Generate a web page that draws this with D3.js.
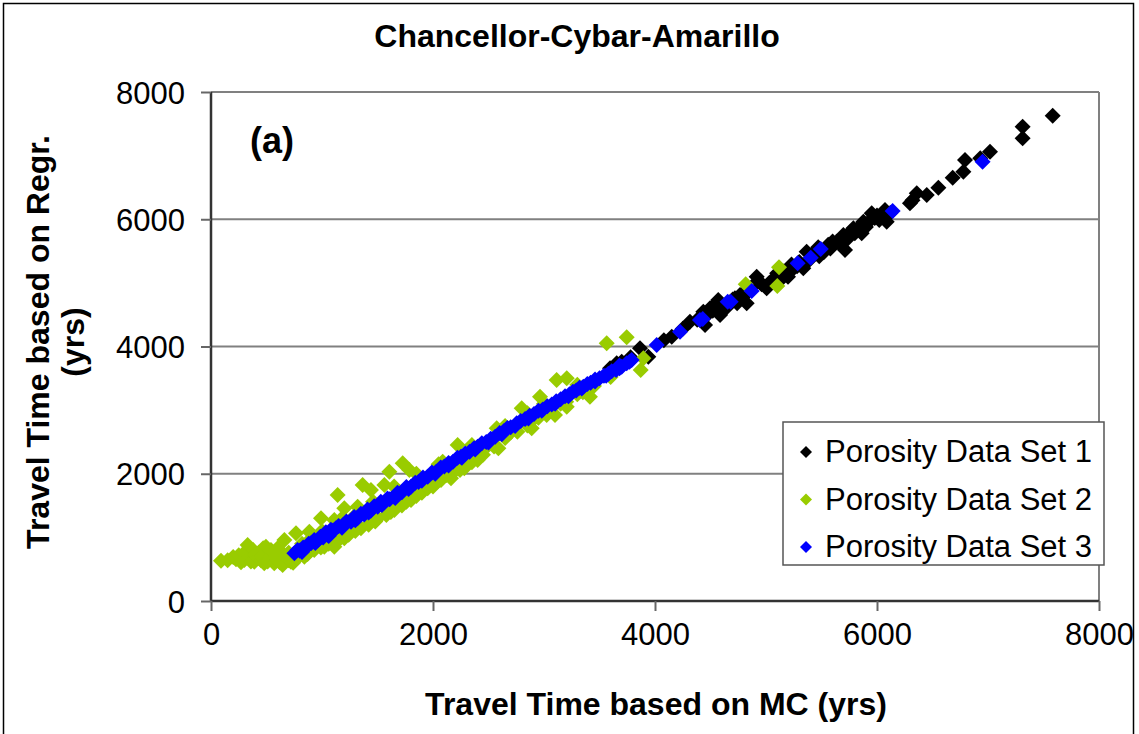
<!DOCTYPE html>
<html>
<head>
<meta charset="utf-8">
<script src="https://cdn.jsdelivr.net/npm/d3@7"></script>
<style>
  body { margin: 0; background: #fff; }
  text { font-family: "Liberation Sans", Arial, sans-serif; fill: #000; }
</style>
</head>
<body>
<svg id="chart" width="1139" height="734"></svg>
<script>
// ticks shared by both axes
var tickValues = [0, 2000, 4000, 6000, 8000];
var seriesNames = ["Porosity Data Set 1", "Porosity Data Set 2", "Porosity Data Set 3"];
var seriesColors = ["#000000", "#99CC00", "#0000FF"];

// [MC travel time, regression travel time]
var set1 = [[3595,3657],[3655,3736],[3700,3760],[3780,3830],[3865,3971],[3940,3840],[4080,4100],[4151,4154],
  [4250,4280],[4315,4390],[4380,4420],[4435,4547],[4460,4480],[4496,4600],[4451,4338],[4520,4560],[4556,4679],
  [4570,4731],[4586,4495],[4600,4660],[4650,4620],[4680,4700],[4720,4760],[4740,4680],[4766,4809],[4800,4850],
  [4826,4679],[4850,4880],[4880,4950],[4916,5097],[4960,4980],[5006,4914],[5030,5000],[5060,5050],[5100,5150],
  [5120,5110],[5150,5080],[5198,5097],[5201,5176],[5250,5230],[5280,5260],[5300,5330],[5336,5229],[5366,5490],
  [5390,5360],[5420,5450],[5450,5500],[5480,5420],[5520,5480],[5560,5600],[5600,5650],[5637,5648],[5660,5620],
  [5697,5752],[5712,5517],[5740,5700],[5787,5858],[5800,5780],[5840,5880],[5862,5779],[5877,5962],[5920,5950],
  [5952,6093],[5980,6020],[6020,5990],[6040,6080],[6072,6146],[6087,5962],[6120,6100],[6297,6251],[6358,6408],
  [6448,6381],[6553,6496],[6682,6653],[6778,6747],[6793,6931],[6930,6960],[7018,7062],[7312,7272],[7312,7454],
  [7583,7627],[4540,4620],[4620,4580],[4700,4740],[4780,4760],[4940,5020],[5160,5180],[5230,5290],[5470,5560],
  [5580,5540],[5680,5680],[5760,5800],[5900,5880],[6000,6060],[6320,6300]];

var set2 = [[90,634],[150,640],[200,690],[225,655],[250,720],[270,610],[300,644],[300,760],[320,700],[330,880],
  [350,700],[360,620],[380,800],[390,618],[400,730],[420,680],[430,760],[450,640],[460,700],[470,830],[480,592],
  [495,854],[510,620],[530,700],[540,660],[540,800],[560,760],[570,592],[590,700],[600,828],[600,650],[620,610],
  [645,566],[650,730],[661,959],[680,700],[700,760],[700,640],[720,618],[730,690],[740,600],[766,1064],[780,680],
  [820,900],[841,697],[870,740],[886,1090],[900,980],[930,800],[950,950],[990,840],[991,1299],[1000,1100],
  [1021,854],[1060,900],[1080,1050],[1111,1273],[1111,854],[1141,1666],[1150,960],[1180,1300],[1201,1456],
  [1201,985],[1240,1040],[1250,1200],[1300,1100],[1300,1350],[1321,1483],[1351,1142],[1366,1823],[1400,1380],
  [1420,1200],[1441,1745],[1460,1560],[1480,1250],[1502,1299],[1550,1480],[1562,1823],[1580,1350],[1607,2033],
  [1620,1400],[1650,1800],[1652,1430],[1700,1650],[1720,1500],[1727,2164],[1760,1560],[1787,2059],[1802,1587],
  [1850,1650],[1850,2000],[1900,1850],[1900,1700],[1952,1771],[2000,1950],[2000,1800],[2040,1880],[2050,2150],
  [2072,1902],[2087,2190],[2120,1980],[2162,1928],[2200,2050],[2222,2452],[2243,2059],[2282,2085],[2300,2250],
  [2350,2180],[2350,2450],[2402,2216],[2450,2300],[2500,2450],[2550,2430],[2574,2714],[2589,2400],[2650,2560],
  [2650,2750],[2700,2650],[2760,2660],[2799,3029],[2850,2760],[2850,2950],[2889,2714],[2900,2850],[2950,2880],
  [2964,3211],[3000,3100],[3024,2923],[3050,2980],[3099,2923],[3114,3473],[3150,3100],[3200,3130],[3205,3500],
  [3205,3054],[3300,3250],[3300,3400],[3350,3280],[3414,3211],[3450,3380],[3565,4050],[3600,3520],[3745,4144],
  [3871,3631],[3895,3814],[4817,4977],[5102,4951],[5117,5245]];

var set3 = [[751,749],[780,800],[800,790],[820,770],[830,840],[860,850],[880,900],[901,907],[930,960],[940,910],
  [960,950],[985,1010],[1010,1000],[1035,1080],[1051,1040],[1060,1020],[1080,1120],[1100,1110],[1126,1142],
  [1150,1180],[1180,1150],[1190,1190],[1220,1250],[1261,1247],[1290,1320],[1300,1270],[1320,1300],[1350,1370],
  [1380,1360],[1410,1440],[1420,1390],[1440,1420],[1470,1490],[1502,1483],[1530,1560],[1540,1510],[1560,1550],
  [1590,1610],[1610,1600],[1652,1640],[1660,1620],[1680,1700],[1720,1710],[1760,1790],[1780,1760],[1802,1797],
  [1840,1860],[1870,1870],[1900,1890],[1910,1940],[1952,1954],[1990,2020],[2020,2000],[2030,2030],[2070,2100],
  [2102,2112],[2140,2170],[2140,2130],[2180,2190],[2220,2250],[2252,2269],[2260,2250],[2290,2320],[2330,2345],
  [2370,2400],[2380,2380],[2402,2426],[2440,2480],[2480,2500],[2500,2490],[2520,2550],[2560,2580],[2600,2640],
  [2620,2620],[2640,2670],[2670,2720],[2700,2730],[2740,2750],[2754,2793],[2790,2830],[2830,2860],[2860,2870],
  [2870,2910],[2910,2940],[2950,2990],[2980,2990],[2990,3010],[3030,3060],[3070,3090],[3100,3100],[3110,3140],
  [3150,3170],[3190,3220],[3220,3220],[3230,3250],[3260,3290],[3290,3310],[3320,3350],[3340,3340],[3354,3368],
  [3390,3410],[3420,3430],[3460,3480],[3460,3450],[3500,3500],[3540,3540],[3560,3540],[3580,3570],[3610,3610],
  [3650,3630],[3680,3700],[3680,3660],[3700,3680],[3745,3736],[3770,3760],[3790,3788],[4015,4024],[4225,4233],
  [4405,4416],[4430,4432],[4655,4704],[4682,4704],[4871,4872],[5285,5307],[5403,5396],[5493,5532],[6141,6130],
  [6951,6905]];

var svg = d3.select("#chart"),
  margin = {top: 92, right: 40, bottom: 133, left: 211},
  width = 1099 - margin.left,
  height = 601 - margin.top;

// outer frame
svg.append("rect")
  .attr("x", 3.5).attr("y", 3.5)
  .attr("width", 1130).attr("height", 745)
  .attr("fill", "none").attr("stroke", "#000").attr("stroke-width", 1.5);

var g = svg.append("g").attr("transform", "translate(" + margin.left + "," + margin.top + ")");

var x = d3.scaleLinear().domain([0, 8000]).range([0, width]);
var y = d3.scaleLinear().domain([0, 8000]).range([height, 0]);

// gridlines + plot frame
g.append("g")
  .selectAll("line")
  .data(tickValues.slice(1))
  .enter().append("line")
  .attr("x1", 0).attr("x2", width)
  .attr("y1", function(d) { return y(d); })
  .attr("y2", function(d) { return y(d); })
  .attr("stroke", "#808080").attr("stroke-width", 2);

g.append("line")
  .attr("x1", width).attr("x2", width)
  .attr("y1", 0).attr("y2", height)
  .attr("stroke", "#808080").attr("stroke-width", 2);

// axes
var fmt = d3.format("d");
var yAxis = g.append("g")
  .call(d3.axisLeft(y).tickValues(tickValues).tickFormat(fmt).tickSize(10).tickPadding(16));
var xAxis = g.append("g")
  .attr("transform", "translate(0," + height + ")")
  .call(d3.axisBottom(x).tickValues(tickValues).tickFormat(fmt).tickSize(10).tickPadding(12));

[xAxis, yAxis].forEach(function(a) {
  a.select(".domain").attr("stroke", "#333").attr("stroke-width", 2.5);
  a.selectAll(".tick line").attr("stroke", "#666").attr("stroke-width", 2);
  a.selectAll(".tick text")
    .style("font-family", "'Liberation Sans', Arial, sans-serif")
    .style("font-size", "31px").attr("fill", "#000");
});
yAxis.selectAll(".tick text").attr("dy", "0.36em");
xAxis.select(".domain").attr("d", "M0,0H" + width);
yAxis.select(".domain").attr("d", "M0," + height + "V0");

// points
function diamond(r) {
  return "M0," + (-r) + "L" + r + ",0L0," + r + "L" + (-r) + ",0Z";
}

[set1, set2, set3].forEach(function(set, i) {
  g.append("g")
    .attr("fill", seriesColors[i])
    .selectAll("path")
    .data(set)
    .enter().append("path")
    .attr("d", diamond(8))
    .attr("transform", function(d) { return "translate(" + x(d[0]) + "," + y(d[1]) + ")"; });
});

// panel label
g.append("text")
  .attr("x", 39).attr("y", 61)
  .style("font-size", "36px").style("font-weight", "bold")
  .text("(a)");

// legend
var legend = svg.append("g").attr("transform", "translate(783,422)");
legend.append("rect")
  .attr("width", 321).attr("height", 143)
  .attr("fill", "#fff").attr("stroke", "#555").attr("stroke-width", 1.5);

var item = legend.selectAll(".item")
  .data(seriesNames)
  .enter().append("g")
  .attr("class", "item")
  .attr("transform", function(d, i) { return "translate(0," + (30 + i * 47.5) + ")"; });

item.append("path")
  .attr("d", diamond(6))
  .attr("transform", "translate(23,0)")
  .attr("fill", function(d, i) { return seriesColors[i]; });

item.append("text")
  .attr("x", 42).attr("y", 10)
  .style("font-size", "31px")
  .text(function(d) { return d; });

// titles
svg.append("text")
  .attr("x", 577).attr("y", 47)
  .attr("text-anchor", "middle")
  .style("font-size", "32px").style("font-weight", "bold")
  .text("Chancellor-Cybar-Amarillo");

svg.append("text")
  .attr("x", 656).attr("y", 715)
  .attr("text-anchor", "middle")
  .style("font-size", "32px").style("font-weight", "bold")
  .text("Travel Time based on MC (yrs)");

var yTitle = svg.append("text")
  .attr("transform", "translate(0,342) rotate(-90)")
  .attr("text-anchor", "middle")
  .style("font-size", "32px").style("font-weight", "bold");
yTitle.append("tspan").attr("x", 0).attr("y", 49).text("Travel Time based on Regr.");
yTitle.append("tspan").attr("x", 0).attr("y", 84).text("(yrs)");
</script>
</body>
</html>
